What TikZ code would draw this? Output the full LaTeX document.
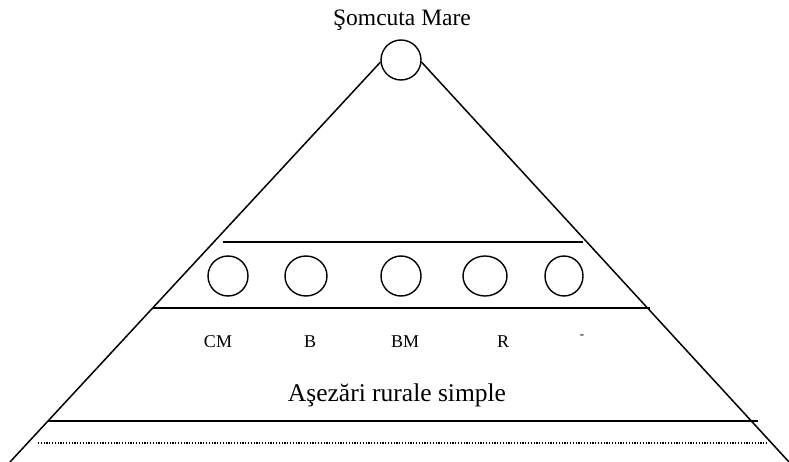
\documentclass[tikz,border=0pt]{standalone}
\usepackage{fontspec}
\setmainfont{Liberation Serif}
\usetikzlibrary{shapes.geometric}
\begin{document}
\begin{tikzpicture}[x=1pt,y=-1pt,
  town/.style={draw,ellipse,line width=1.4pt,inner sep=0pt,minimum height=40pt},
  side/.style={line width=1.5pt},
  level/.style={line width=2pt},
  lbl/.style={anchor=base,inner sep=0pt,font=\fontsize{18}{20}\selectfont}]
\useasboundingbox (0,0) rectangle (789,462);
% apex
\node[town,minimum width=40pt] (apex) at (401,60) {};
\node[anchor=base,inner sep=0pt,font=\fontsize{23.5}{26}\selectfont] (tname) at (402,26) {Şomcuta Mare};
% triangle sides
\coordinate (bl) at (10,462);
\coordinate (br) at (789,462);
\draw[side] (apex.186) -- (bl);
\draw[side] (apex.354) -- (br);
% levels
\coordinate (l1a) at (223,242); \coordinate (l1b) at (583,242);
\coordinate (l2a) at (153,308); \coordinate (l2b) at (650,308);
\coordinate (l3a) at (48,421);  \coordinate (l3b) at (758,421);
\coordinate (l4a) at (38,443);  \coordinate (l4b) at (768,443);
\draw[level] (l1a) -- (l1b);
\draw[level] (l2a) -- (l2b);
\draw[level] (l3a) -- (l3b);
\draw[line width=1.3pt,dash pattern=on 1.2pt off 1.6pt] (l4a) -- (l4b);
% towns
\node[town,minimum width=40pt] (c1) at (228,276) {};
\node[town,minimum width=42pt] (c2) at (306,276) {};
\node[town,minimum width=40pt] (c3) at (401,276) {};
\node[town,minimum width=44pt] (c4) at (485,276) {};
\node[town,minimum width=38pt] (c5) at (564,276) {};
% labels
\node[lbl] (t1) at (218,347) {CM};
\node[lbl] (t2) at (310,347) {B};
\node[lbl] (t3) at (405,347) {BM};
\node[lbl] (t4) at (503,347) {R};
\node[anchor=base,inner sep=0pt,font=\fontsize{13}{14}\selectfont] (t5) at (582,338) {-};
\node[anchor=base,inner sep=0pt,font=\fontsize{25.5}{28}\selectfont] (rural) at (397,401) {Aşezări rurale simple};
\end{tikzpicture}
\end{document}
